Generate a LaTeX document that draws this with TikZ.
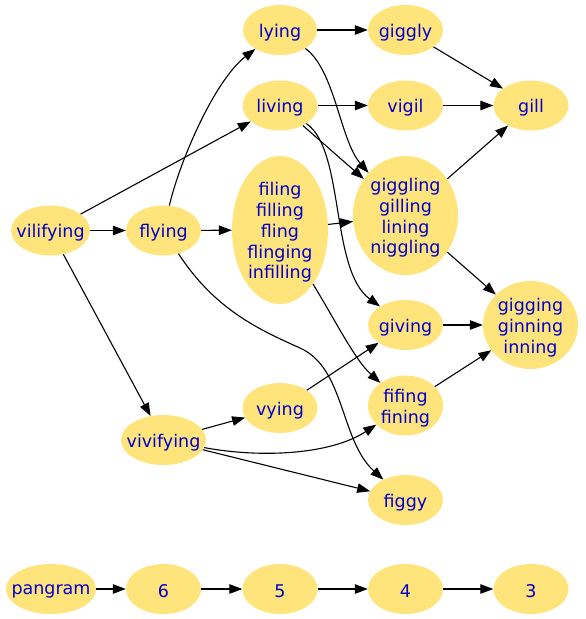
\documentclass[tikz,border=0pt]{standalone}
\usepackage{fontspec}
\setmainfont{DejaVu Sans}
\usetikzlibrary{shapes.geometric,arrows.meta}
\definecolor{nodefill}{HTML}{FFE37B}
\definecolor{nodetext}{HTML}{0000CD}
\tikzset{
  blob/.style={ellipse, fill=nodefill, inner sep=0pt},
  wordtext/.style={text=nodetext, inner sep=0pt, align=center, yshift=-2.5pt,
    font=\fontsize{17.5}{20.7}\selectfont},
  sz/.style 2 args={minimum width=#1pt, minimum height=#2pt},
  arr/.style={-{Triangle[length=13pt,width=9.5pt]}, line width=1.1pt, black}
}
\begin{document}
\begin{tikzpicture}[x=1pt,y=-1pt]
\useasboundingbox (0,0) rectangle (586,619);
% ellipses
\node[blob,sz={74}{50}] (lying) at (280,30) {};
\node[blob,sz={75}{50}] (giggly) at (405.5,30) {};
\node[blob,sz={75}{50}] (gill) at (531,105.5) {};
\node[blob,sz={75}{50}] (living) at (280,105.5) {};
\node[blob,sz={75}{50}] (vigil) at (405.5,105.5) {};
\node[blob,sz={96}{148}] (filing) at (280,230) {};
\node[blob,sz={105}{119}] (giggling) at (405.5,215.5) {};
\node[blob,sz={79}{50}] (vilifying) at (50.5,230.5) {};
\node[blob,sz={75}{50}] (flying) at (163.5,230.5) {};
\node[blob,sz={75}{50}] (giving) at (405.5,325) {};
\node[blob,sz={95}{88}] (gigging) at (530.5,325) {};
\node[blob,sz={75}{50}] (vying) at (280,408) {};
\node[blob,sz={75}{60}] (fifing) at (405.5,405.5) {};
\node[blob,sz={85}{50}] (vivifying) at (163.5,440) {};
\node[blob,sz={75}{50}] (figgy) at (405.5,500) {};
\node[blob,sz={90}{50}] (pangram) at (51,589) {};
\node[blob,sz={75}{50}] (n6) at (163.5,589) {};
\node[blob,sz={75}{50}] (n5) at (280,589) {};
\node[blob,sz={75}{50}] (n4) at (405.5,589) {};
\node[blob,sz={75}{50}] (n3) at (531,589) {};
% labels
\node[wordtext] (lying-t) at (lying) {lying};
\node[wordtext] (giggly-t) at (giggly) {giggly};
\node[wordtext] (gill-t) at (gill) {gill};
\node[wordtext] (living-t) at (living) {living};
\node[wordtext] (vigil-t) at (vigil) {vigil};
\node[wordtext] (filing-t) at (filing) {filing\\filling\\fling\\flinging\\infilling};
\node[wordtext] (giggling-t) at (giggling) {giggling\\gilling\\lining\\niggling};
\node[wordtext] (vilifying-t) at (vilifying) {vilifying};
\node[wordtext] (flying-t) at (flying) {flying};
\node[wordtext] (giving-t) at (giving) {giving};
\node[wordtext] (gigging-t) at (gigging) {gigging\\ginning\\inning};
\node[wordtext] (vying-t) at (vying) {vying};
\node[wordtext] (fifing-t) at (fifing) {fifing\\fining};
\node[wordtext] (vivifying-t) at (vivifying) {vivifying};
\node[wordtext] (figgy-t) at (figgy) {figgy};
\node[wordtext] (pangram-t) at (pangram) {pangram};
\node[wordtext] (n6-t) at (n6) {6};
\node[wordtext] (n5-t) at (n5) {5};
\node[wordtext] (n4-t) at (n4) {4};
\node[wordtext] (n3-t) at (n3) {3};
% edges
\draw[arr] (lying) -- (giggly);
\draw[arr] (giggly) -- (gill);
\draw[arr] (vigil) -- (gill);
\draw[arr] (living) -- (vigil);
\draw[arr] (giggling) -- (gill);
\draw[arr] (giggling) -- (gigging);
\draw[arr] (giving) -- (gigging);
\draw[arr] (fifing) -- (gigging);
\draw[arr] (vilifying) -- (flying);
\draw[arr] (vilifying) -- (living);
\draw[arr] (vilifying) -- (vivifying);
\draw[arr] (flying) .. controls (180,160) and (215,80) .. (lying);
\draw[arr] (flying) -- (filing);
\draw[arr] (flying) .. controls (215,310) and (260,330) .. (300,348)
  .. controls (345,368) and (340,440) .. (figgy);
\draw[arr] (lying) .. controls (335,70) and (340,140) .. (giggling);
\draw[arr] (living) -- (giggling);
\draw[arr] (living) .. controls (345,150) and (330,270) .. (giving);
\draw[arr] (filing) -- (giggling);
\draw[arr] (filing) .. controls (335,320) and (355,360) .. (fifing);
\draw[arr] (vying) -- (giving);
\draw[arr] (vivifying) -- (vying);
\draw[arr] (vivifying) .. controls (260,458) and (330,455) .. (fifing);
\draw[arr] (vivifying) -- (figgy);
\draw[arr] (pangram) -- (n6);
\draw[arr] (n6) -- (n5);
\draw[arr] (n5) -- (n4);
\draw[arr] (n4) -- (n3);
\end{tikzpicture}
\end{document}
